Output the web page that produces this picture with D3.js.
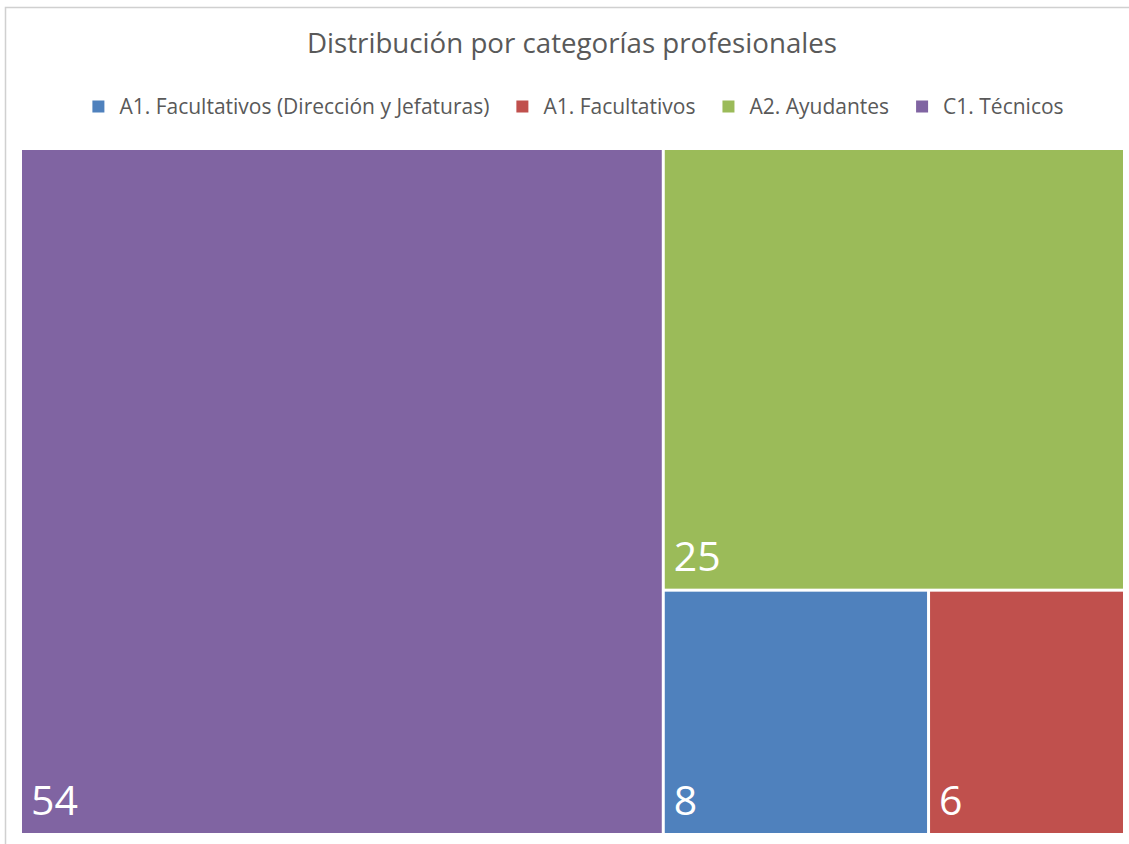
<!DOCTYPE html>
<html>
<head>
<meta charset="utf-8">
<script src="https://cdn.jsdelivr.net/npm/d3@7"></script>
<style>
  html, body { margin: 0; padding: 0; background: #fff; }
  svg { display: block; }
  text { font-family: "Open Sans", Lato, sans-serif; }
</style>
</head>
<body>
<svg id="chart" width="1129" height="844"></svg>
<script>
// Staff counts by professional category
const categories = [
  "A1. Facultativos (Dirección y Jefaturas)",
  "A1. Facultativos",
  "A2. Ayudantes",
  "C1. Técnicos"
];
const counts = [8, 6, 25, 54];
const colors = ["#4F81BD", "#C0504D", "#9BBB59", "#8064A2"];
const title = "Distribución por categorías profesionales";

const W = 1129, H = 844;
const svg = d3.select("#chart");

// chart area outline
svg.append("rect")
  .attr("x", 5.5).attr("y", 7.5)
  .attr("width", W + 10).attr("height", H + 10)
  .attr("fill", "#fff")
  .attr("stroke", "#d0d0d0").attr("stroke-width", 1.5);

// title
svg.append("text")
  .attr("x", 572).attr("y", 53)
  .attr("text-anchor", "middle")
  .attr("font-size", 27.7)
  .attr("fill", "#595959")
  .text(title);

// legend, laid out from measured text widths and centred
const legendY = 106.5;
const legendFont = 21;
const sw = 12, swGap = 15, itemGap = 27;
const legend = svg.append("g");
const items = categories.map((c, i) => {
  const g = legend.append("g");
  g.append("rect").attr("width", sw).attr("height", sw)
    .attr("y", legendY - sw / 2).attr("fill", colors[i]);
  const t = g.append("text")
    .attr("x", sw + swGap).attr("y", legendY)
    .attr("dy", "0.35em")
    .attr("font-size", legendFont)
    .attr("fill", "#595959")
    .text(c);
  return { g, w: sw + swGap + t.node().getComputedTextLength() };
});
const totalW = d3.sum(items, d => d.w) + itemGap * (items.length - 1);
let lx = 578 - totalW / 2;
items.forEach(it => { it.g.attr("transform", `translate(${lx},0)`); lx += it.w + itemGap; });

// treemap
const root = d3.hierarchy({
  children: categories.map((c, i) => ({ name: c, value: counts[i], color: colors[i] }))
}).sum(d => d.value || 0)
  .sort((a, b) => b.value - a.value);

d3.treemap()
  .tile(d3.treemapSquarify.ratio(1))
  .size([1101 + 3, 683 + 3])
  .paddingInner(3)
  .round(false)(root);

const area = svg.append("g").attr("transform", "translate(22,150)");
const cell = area.selectAll("g.cell")
  .data(root.leaves())
  .join("g")
  .attr("class", "cell")
  .attr("transform", d => `translate(${d.x0},${d.y0})`);

cell.append("rect")
  .attr("width", d => Math.max(0, Math.min(d.x1, 1101) - d.x0))
  .attr("height", d => Math.max(0, Math.min(d.y1, 683) - d.y0))
  .attr("fill", d => d.data.color);

cell.append("text")
  .attr("x", 9)
  .attr("y", d => Math.min(d.y1, 683) - d.y0 - 18)
  .attr("font-size", 41)
  .attr("fill", "#fff")
  .text(d => d.value);
</script>
</body>
</html>
